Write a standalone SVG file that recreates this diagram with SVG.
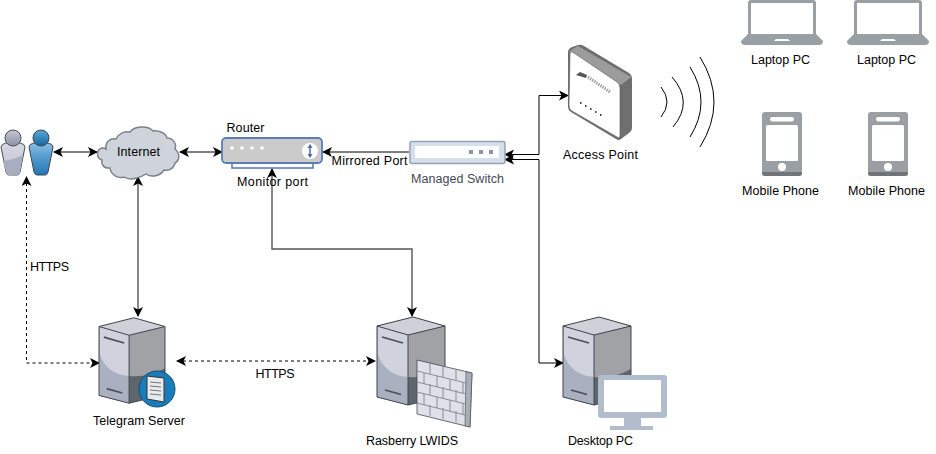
<svg xmlns="http://www.w3.org/2000/svg" xmlns:xlink="http://www.w3.org/1999/xlink" width="936" height="454" viewBox="0 0 936 454">
<style>
text{font-family:"Liberation Sans",Arial,sans-serif;font-size:12.5px;fill:#000;text-anchor:middle}
.c{fill:none;stroke:#000;stroke-width:1}
.g{fill:none;stroke:#555;stroke-width:1.4}
.d{stroke-dasharray:3 3}
.w{fill:none;stroke:#000;stroke-width:1}
</style>
<defs>
<marker id="a" viewBox="0 0 10 10" refX="9" refY="5" markerWidth="10" markerHeight="10" markerUnits="userSpaceOnUse" orient="auto-start-reverse"><path d="M0 0L10 5L0 10L2.5 5Z" fill="#000"/></marker>
<linearGradient id="fr" x1="0" y1="0" x2="0" y2="1"><stop offset="0" stop-color="#d6d9e2"/><stop offset="1" stop-color="#c0c4d0"/></linearGradient>
<linearGradient id="bl" x1="0" y1="0" x2="0" y2="1"><stop offset="0" stop-color="#8fc0e6"/><stop offset="0.4" stop-color="#5d9fd2"/><stop offset="1" stop-color="#2177b8"/></linearGradient>
<linearGradient id="hg" x1="0" y1="0" x2="0" y2="1"><stop offset="0" stop-color="#c2c6d4"/><stop offset="1" stop-color="#8d93a6"/></linearGradient>
<linearGradient id="hb" x1="0" y1="0" x2="0" y2="1"><stop offset="0" stop-color="#58a8d8"/><stop offset="1" stop-color="#17679f"/></linearGradient>
<symbol id="server" viewBox="0 0 68 88" width="68" height="88" overflow="visible">
<path d="M0 9L36 0L68 9V79L31 88L0 80Z" fill="#5f656c"/>
<path d="M0 9L31 18V88L0 80Z" fill="#a9b0c0"/>
<path d="M31 18L68 9V52Q50 62 31 60Z" fill="#a0a2a6"/>
<path d="M1 9L31 18V60Q8 58 1 38Z" fill="#d0d3de"/>
<path d="M0 9L36 0L68 9L31 18Z" fill="#cfd1d8"/>
<path d="M0 9L36 0L68 9V79L31 88L0 80Z M31 18L68 9 M31 18L0 9 M31 18V88" fill="none" stroke="#3f444c" stroke-width="1"/>
<path d="M5 20L26 26M8 73L24 77.500" stroke="#4a4f58" stroke-width="1.800" fill="none"/>
</symbol>
<symbol id="laptop" viewBox="0 0 82 46" width="82" height="46" overflow="visible">
<path d="M7 36V3Q7 0 10 0H72Q75 0 75 3V36H72V3H10V36Z" fill="#9a9fa4"/>
<path d="M7 34H75L82 41Q82 45 78 45H4Q0 45 0 41Z" fill="#9a9fa4"/>
<path d="M33 41L35 39H47L49 41Z" fill="#fff"/>
</symbol>
<symbol id="phone" viewBox="0 0 40 64" width="40" height="64" overflow="visible">
<rect width="40" height="64" rx="3" fill="#9a9fa4"/>
<path d="M0 60H40V61Q40 64 37 64H3Q0 64 0 61Z" fill="#707579"/>
<rect x="8" y="5" width="24" height="4.500" rx="2.200" fill="#fff"/>
<rect x="4" y="13" width="32" height="36" rx="1.500" fill="#fff"/>
<circle cx="20" cy="55" r="4" fill="#fff"/>
</symbol>
</defs>

<g id="connectors">
<path class="g" d="M54 152H97" marker-start="url(#a)" marker-end="url(#a)"/>
<path class="g" d="M180 152H222" marker-start="url(#a)" marker-end="url(#a)"/>
<path class="g" d="M138 177V316" marker-start="url(#a)" marker-end="url(#a)"/>
<path class="g" d="M409 152H323" marker-end="url(#a)"/>
<path class="g" d="M272 169V249H412V316" marker-start="url(#a)" marker-end="url(#a)"/>
<path class="c" d="M505 154.500H539V95.500H568" marker-start="url(#a)" marker-end="url(#a)"/>
<path class="c" d="M505 159.500H539V363H563" marker-start="url(#a)" marker-end="url(#a)"/>
<path class="c d" d="M26.500 177V363H99" marker-start="url(#a)" marker-end="url(#a)"/>
<path class="c d" d="M177 361H375" marker-start="url(#a)" marker-end="url(#a)"/>
</g>

<g id="users">
<path d="M1 147Q1 144 6 143Q13 141 20 143Q25 144 25 147L20 172Q19 175 17 175H9Q7 175 6 172Z" fill="url(#fr)" stroke="#4a4f58"/>
<path d="M3 161Q13 160 23 155L20 172Q19 175 17 175H9Q7 175 6 172Z" fill="#a8aec0"/>
<circle cx="13" cy="138" r="8" fill="url(#hg)" stroke="#4a4f58"/>
<path d="M29 147Q29 144 34 143Q41 141 48 143Q53 144 53 147L48 172Q47 175 45 175H37Q35 175 34 172Z" fill="url(#bl)" stroke="#3f444c"/>
<circle cx="41" cy="138" r="8" fill="url(#hb)" stroke="#3f444c"/>
</g>

<g id="internet">
<path d="M110 168C103 169 101 163 102 160C96 158 96 150 102 148C103 148 105 148 106 149C105 142 110 138 116 139C119 133 125 131 130 132C134 126 148 125 153 131C158 130 166 133 167 138C173 138 177 144 175 149C180 153 180 160 175 163C174 169 168 171 164 170C160 176 152 178 146 174C140 178 130 181 124 177C118 179 111 175 110 168Z" fill="#ced3dc" stroke="#7c828b" stroke-width="1.500"/>
<text x="138.500" y="156" textLength="43">Internet</text>
</g>

<g id="router">
<rect x="232" y="160" width="81" height="8" fill="#fff" stroke="#5577b0" stroke-width="1.500"/>
<rect x="222" y="138" width="100" height="25" rx="4" fill="#cbcbcb" stroke="#5a7db8" stroke-width="1.800"/>
<circle cx="232" cy="148" r="1.800" fill="#fff"/><circle cx="242" cy="148" r="1.800" fill="#fff"/><circle cx="252" cy="148" r="1.800" fill="#fff"/><circle cx="262" cy="148" r="1.800" fill="#fff"/>
<circle cx="310" cy="151" r="8" fill="#fff"/>
<path d="M310 145V157" stroke="#4a6fa8" stroke-width="1.500"/>
<path d="M307.500 148L310 144L312.500 148ZM307.500 154L310 158L312.500 154Z" fill="#4a6fa8"/>
<text x="245.500" y="132" textLength="38">Router</text>
<text x="272.500" y="186" textLength="71">Monitor port</text>
</g>
<text x="369.500" y="165" textLength="76">Mirrored Port</text>

<g id="switch">
<rect x="410" y="141.500" width="95" height="22" rx="2" fill="#d6dfea" stroke="#95a3b5" stroke-width="1.500"/>
<rect x="415" y="146" width="84" height="12" fill="#fff"/>
<rect x="469" y="150" width="4" height="4" fill="#8a96a6"/><rect x="479" y="150" width="4" height="4" fill="#8a96a6"/><rect x="489" y="150" width="4" height="4" fill="#8a96a6"/>
<text x="457.500" y="183" textLength="93" style="fill:#3f4954">Managed Switch</text>
</g>

<g id="access-point">
<path d="M568 52Q568 49 572 47L578 45Q581 44 584 46L629 73Q632 75 632 79V128Q632 131 629 133L621 139Q619 141 616 139L571 112Q568 110 568 107Z" fill="#6f6f6f"/>
<path d="M569 52Q572 49 578 46L631 77L621 85Z" fill="#9c9c9c"/>
<path d="M570 53Q571 51 574 53L617 82Q620 84 620 88V135Q620 139 617 137L572 111Q569 109 569 106Z" fill="#fff" stroke="#555" stroke-width="0.600"/>
<path d="M576 75L580 72L587 75L586 78Z" fill="#555"/>
<path d="M588 77L610 92" stroke="#a0a0a0" stroke-width="3" stroke-dasharray="1.500 1" fill="none"/>
<path d="M580 103h1.500M585 106h1.500M590 109h1.500M595 112h1.500M600 115h1.500" stroke="#444" stroke-width="2"/>
<text x="600.500" y="159" textLength="75">Access Point</text>
</g>

<g id="wireless">
<path class="w" d="M661 87Q673 102 661 117"/>
<path class="w" d="M672 77Q694 102 673 127"/>
<path class="w" d="M690 67Q712 102 690 137"/>
<path class="w" d="M700 57Q728 102 700 147"/>
</g>

<g id="laptop-1"><use xlink:href="#laptop" href="#laptop" x="741" y="0"/><text x="780.500" y="64" textLength="59">Laptop PC</text></g>
<g id="laptop-2"><use xlink:href="#laptop" href="#laptop" x="847" y="0"/><text x="886.500" y="64" textLength="59">Laptop PC</text></g>
<g id="phone-1"><use xlink:href="#phone" href="#phone" x="762" y="112"/><text x="780.500" y="195" textLength="77">Mobile Phone</text></g>
<g id="phone-2"><use xlink:href="#phone" href="#phone" x="868" y="112"/><text x="886.500" y="195" textLength="77">Mobile Phone</text></g>

<g id="telegram-server">
<use xlink:href="#server" href="#server" x="99" y="317" width="66" height="87"/>
<circle cx="157" cy="389" r="18" fill="#1a7cb8" stroke="#0e4f7c" stroke-width="1"/>
<path d="M147 376L164 378V402L147 399Z" fill="#e8eaef" stroke="#333" stroke-width="1"/>
<path d="M150 382L161 383M150 386L161 387M150 390L161 391M150 394L161 395" stroke="#555" stroke-width="0.800"/>
<text x="139" y="425" textLength="92">Telegram Server</text>
</g>

<g id="rasberry-lwids">
<use xlink:href="#server" href="#server" x="377" y="317"/>
<path d="M417 360L472 373L470 427L417 414Z" fill="#dfe1ea" stroke="#44484f" stroke-width="0.800"/>
<path d="M466 372L472 373L470 427L465 426Z" fill="#a9adb8" stroke="#44484f" stroke-width="0.600"/>
<path d="M417 371L466 383M417 382L466 394M417 392L466 404M417 403L465 415" stroke="#80848e" stroke-width="0.900" fill="none"/>
<path d="M430 363V374M443 366V377M456 369V380M424 373V384M437 376V387M450 379V390M463 382V393M430 384V395M443 387V398M456 390V401M424 394V405M437 397V408M450 400V411M463 403V414M430 405V416M443 408V419M456 411V422" stroke="#80848e" stroke-width="0.900" fill="none"/>
<text x="412" y="445" textLength="92">Rasberry LWIDS</text>
</g>

<g id="desktop-pc">
<use xlink:href="#server" href="#server" x="563" y="317"/>
<rect x="598" y="375" width="69" height="43" rx="3" fill="#b1bccd"/>
<rect x="604" y="380" width="57" height="32" fill="#fff"/>
<path d="M624 418H641V426H653V430H610V426H624Z" fill="#b1bccd"/>
<text x="600.500" y="445" textLength="65">Desktop PC</text>
</g>

<text x="49.500" y="271" textLength="39">HTTPS</text>
<text x="275" y="378" textLength="39">HTTPS</text>
</svg>
